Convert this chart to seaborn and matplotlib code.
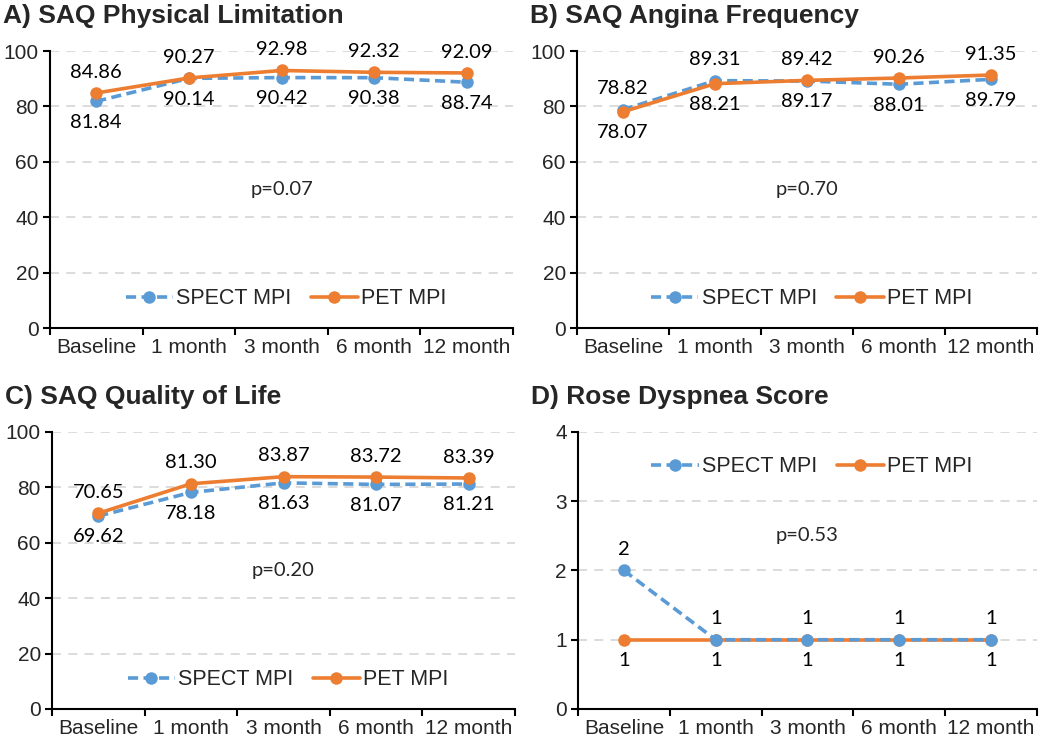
import pandas as pd
import seaborn as sns
import matplotlib.pyplot as plt
import numpy as np

visits = ["Baseline", "1 month", "3 month", "6 month", "12 month"]
scans = ["SPECT MPI", "PET MPI"]

a_spect = [81.84, 90.14, 90.42, 90.38, 88.74]
a_pet = [84.86, 90.27, 92.98, 92.32, 92.09]
b_spect = [78.82, 89.31, 89.17, 88.01, 89.79]
b_pet = [78.07, 88.21, 89.42, 90.26, 91.35]
c_spect = [69.62, 78.18, 81.63, 81.07, 81.21]
c_pet = [70.65, 81.30, 83.87, 83.72, 83.39]
d_spect = [2, 1, 1, 1, 1]
d_pet = [1, 1, 1, 1, 1]

titles = ["A) SAQ Physical Limitation", "B) SAQ Angina Frequency",
          "C) SAQ Quality of Life", "D) Rose Dyspnea Score"]
pvals = ["p=0.07", "p=0.70", "p=0.20", "p=0.53"]
spect_all = [a_spect, b_spect, c_spect, d_spect]
pet_all = [a_pet, b_pet, c_pet, d_pet]

colors = {"SPECT MPI": "#5B9BD5", "PET MPI": "#ED7D31"}

sns.set_theme(style="ticks")
plt.rcParams["font.family"] = ["Liberation Sans", "DejaVu Sans"]
plt.rcParams["legend.fontsize"] = 15.5
plt.rcParams["legend.handlelength"] = 2.2
plt.rcParams["legend.handletextpad"] = 0.15
plt.rcParams["legend.columnspacing"] = 0.9

fig = plt.figure(figsize=(10.5, 7.43), dpi=100)
boxes = [[0.0476, 0.5585, 0.441, 0.3728],
         [0.5495, 0.5585, 0.438, 0.3728],
         [0.0495, 0.0458, 0.441, 0.3728],
         [0.5505, 0.0458, 0.437, 0.3728]]

for k in range(4):
    ax = fig.add_axes(boxes[k])
    spect = spect_all[k]
    pet = pet_all[k]
    df = pd.DataFrame({
        "visit": visits * 2,
        "score": spect + pet,
        "scan": ["SPECT MPI"] * len(visits) + ["PET MPI"] * len(visits),
    })
    sns.lineplot(data=df, x="visit", y="score", hue="scan", style="scan",
                 hue_order=scans, style_order=scans, palette=colors,
                 markers={"SPECT MPI": "o", "PET MPI": "o"},
                 dashes={"SPECT MPI": (2.8, 1.5), "PET MPI": ""},
                 linewidth=2.6, markersize=9, markeredgewidth=0, ax=ax)
    if k == 3:
        ax.lines[0].set_zorder(3)

    top = 4 if k == 3 else 100
    ax.set_ylim(0, top)
    ax.set_yticks(np.linspace(0, top, 5 if k == 3 else 6))
    ax.set_xlim(-0.5, len(visits) - 0.5)
    ax.set_xticks(np.arange(-0.5, len(visits), 1), minor=True)
    ax.set_xlabel("")
    ax.set_ylabel("")

    ax.yaxis.grid(True, linestyle=(0, (5, 4)), color="#D9D9D9", linewidth=1.3)
    ax.set_axisbelow(True)
    sns.despine(ax=ax)
    for s in ["left", "bottom"]:
        ax.spines[s].set_color("black")
        ax.spines[s].set_linewidth(1.5)
    ax.tick_params(axis="y", length=5, width=1.5, color="black", pad=3,
                   labelsize=15, left=True)
    ax.tick_params(axis="x", which="major", length=0, pad=7, labelsize=15)
    ax.tick_params(axis="x", which="minor", length=5, width=1.5,
                   color="black", bottom=True)

    # data labels: the higher series goes above
    fmt = "{:.0f}" if k == 3 else "{:.2f}"
    for v, s_val, p_val in zip(visits, spect, pet):
        up = s_val >= p_val
        ax.annotate(fmt.format(s_val), (v, s_val), xytext=(0, 15 if up else -15),
                    textcoords="offset points", ha="center", va="center",
                    fontsize=14.5, family="Lato", color="black")
        ax.annotate(fmt.format(p_val), (v, p_val), xytext=(0, -15 if up else 15),
                    textcoords="offset points", ha="center", va="center",
                    fontsize=14.5, family="Lato", color="black")

    ax.text(0.5, 0.625 if k == 3 else 0.5, pvals[k], transform=ax.transAxes,
            ha="center", va="center", fontsize=14.5, family="Lato")

    ax.set_title(titles[k], loc="left", x=-0.102, pad=20, fontsize=19,
                 fontweight="bold")

    sns.move_legend(ax, "center", bbox_to_anchor=(0.51, 0.875 if k == 3 else 0.105),
                    ncol=2, title=None, frameon=False)

fig.savefig("out.png", dpi=100)
